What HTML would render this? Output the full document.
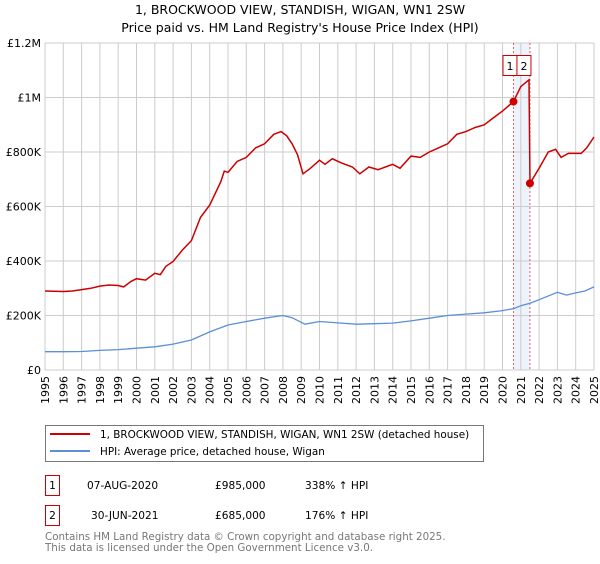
<!DOCTYPE html>
<html><head><meta charset="utf-8"><style>
body{margin:0;background:#fff;width:600px;height:560px;overflow:hidden;font-family:"DejaVu Sans","Liberation Sans",sans-serif}
svg text{font-family:"DejaVu Sans","Liberation Sans",sans-serif}
</style></head><body>
<svg id="chart" width="600" height="560" viewBox="0 0 600 560" xmlns="http://www.w3.org/2000/svg">
<text x="300" y="14" text-anchor="middle" font-size="12.5" fill="#000">1, BROCKWOOD VIEW, STANDISH, WIGAN, WN1 2SW</text>
<text x="300" y="32" text-anchor="middle" font-size="12.5" fill="#000">Price paid vs. HM Land Registry's House Price Index (HPI)</text>
<g id="grid"></g>
<g id="axes"></g>
<g id="series"></g>
<g>
<rect x="45.5" y="425.5" width="438" height="36" fill="#fff" stroke="#777"/>
<line x1="50" y1="434" x2="90" y2="434" stroke="#cc0000" stroke-width="2"/>
<text x="100" y="438" font-size="10.4">1, BROCKWOOD VIEW, STANDISH, WIGAN, WN1 2SW (detached house)</text>
<line x1="50" y1="451" x2="90" y2="451" stroke="#5b8fd6" stroke-width="2"/>
<text x="100" y="455" font-size="10.4">HPI: Average price, detached house, Wigan</text>
</g>
<g font-size="10.6">
<rect x="45.5" y="475.5" width="14" height="20" fill="#fff" stroke="#cc0000"/>
<text x="52.5" y="489" text-anchor="middle">1</text>
<text x="87" y="489">07-AUG-2020</text><text x="215" y="489">£985,000</text><text x="305" y="489">338% ↑ HPI</text>
<rect x="45.5" y="505.5" width="14" height="20" fill="#fff" stroke="#cc0000"/>
<text x="52.5" y="519" text-anchor="middle">2</text>
<text x="91" y="519">30-JUN-2021</text><text x="215" y="519">£685,000</text><text x="305" y="519">176% ↑ HPI</text>
</g>
<text x="45" y="540" font-size="10.3" fill="#777">Contains HM Land Registry data © Crown copyright and database right 2025.</text>
<text x="45" y="551" font-size="10.3" fill="#777">This data is licensed under the Open Government Licence v3.0.</text>
</svg>
<script>
const yTicks=[0,200000,400000,600000,800000,1000000,1200000];
const yTickLabels=["£0","£200K","£400K","£600K","£800K","£1M","£1.2M"];
const years=[1995,1996,1997,1998,1999,2000,2001,2002,2003,2004,2005,2006,2007,2008,2009,2010,2011,2012,2013,2014,2015,2016,2017,2018,2019,2020,2021,2022,2023,2024,2025];
const propT=[1995,1996,1996.5,1997,1997.5,1998,1998.5,1999,1999.3,1999.7,2000,2000.5,2001,2001.3,2001.6,2002,2002.5,2003,2003.5,2004,2004.6,2004.8,2005,2005.5,2006,2006.5,2007,2007.5,2007.9,2008.2,2008.5,2008.8,2009.1,2009.5,2010,2010.3,2010.7,2011.2,2011.8,2012.2,2012.7,2013.2,2013.6,2014,2014.4,2015,2015.5,2016,2016.5,2017,2017.5,2018,2018.5,2019,2019.5,2020,2020.6,2021,2021.45,2021.5,2022,2022.5,2022.9,2023.2,2023.6,2024,2024.3,2024.6,2025];
const propV=[290000,288000,290000,295000,300000,308000,312000,310000,305000,325000,335000,330000,355000,350000,380000,398000,440000,475000,560000,605000,690000,730000,725000,765000,780000,815000,830000,865000,875000,860000,830000,790000,720000,740000,770000,755000,775000,760000,745000,720000,745000,735000,745000,755000,740000,785000,780000,800000,815000,830000,865000,875000,890000,900000,925000,950000,985000,1040000,1065000,685000,740000,800000,810000,780000,795000,795000,795000,815000,855000];
const hpiT=[1995,1996,1997,1998,1999,2000,2001,2002,2003,2004,2005,2006,2007,2008,2008.5,2009.2,2010,2011,2012,2013,2014,2015,2016,2017,2018,2019,2020,2020.6,2021,2021.5,2022,2023,2023.5,2024,2024.5,2025];
const hpiV=[67000,67000,68000,72000,75000,80000,85000,95000,110000,140000,165000,178000,190000,200000,192000,168000,178000,173000,168000,170000,172000,180000,190000,200000,205000,210000,218000,225000,236000,245000,258000,285000,275000,283000,290000,305000];
const sales=[{t:2020.6,v:985000,label:"1"},{t:2021.5,v:685000,label:"2"}];
const X0=45,X1=594,Y0=370,Y1=43;
const xs=t=>X0+(t-1995)/(2025-1995)*(X1-X0);
const ys=v=>Y0-v/1200000*(Y0-Y1);
const NS="http://www.w3.org/2000/svg";
function mk(tag,attrs,parent){const e=document.createElementNS(NS,tag);for(const k in attrs)e.setAttribute(k,attrs[k]);parent.appendChild(e);return e;}
const grid=document.getElementById('grid'),axes=document.getElementById('axes'),ser=document.getElementById('series');
const band=mk('rect',{x:xs(sales[0].t),y:Y1,width:xs(sales[1].t)-xs(sales[0].t),height:Y0-Y1,fill:'#eef2fb'},grid);


years.forEach(y=>{const l=mk('line',{x1:xs(y),x2:xs(y),y1:Y1,y2:Y0,stroke:'#cccccc','stroke-width':1},grid);


const t=mk('text',{x:0,y:0,'font-size':11,'text-anchor':'end',transform:`translate(${xs(y)+4},${Y0+6}) rotate(-90)`},axes);


t.textContent=y;});
yTicks.forEach((v,i)=>{const l=mk('line',{x1:X0,x2:X1,y1:ys(v),y2:ys(v),stroke:'#cccccc','stroke-width':1},grid);


const t=mk('text',{x:X0-4,y:ys(v)+4,'font-size':11,'text-anchor':'end'},axes);


t.textContent=yTickLabels[i];});
sales.forEach(s=>{const l=mk('line',{x1:xs(s.t),x2:xs(s.t),y1:Y1,y2:Y0,stroke:'#e06060','stroke-width':1,'stroke-dasharray':'2,2'},grid);

});
function path(T,V){return T.map((t,i)=>(i?'L':'M')+xs(t).toFixed(1)+','+ys(V[i]).toFixed(1)).join('');}
const hp=mk('path',{d:path(hpiT,hpiV),fill:'none',stroke:'#5b8fd6','stroke-width':1.3},ser);


const pp=mk('path',{d:path(propT,propV),fill:'none',stroke:'#cc0000','stroke-width':1.5},ser);


sales.forEach((s,i)=>{const c=mk('circle',{cx:xs(s.t),cy:ys(s.v),r:4,fill:'#cc0000'},ser);


const bx=xs(s.t)+(i===0?-10.5:-13);
const r=mk('rect',{x:bx,y:55.5,width:14,height:20,fill:'#fff',stroke:'#cc0000'},ser);


const t=mk('text',{x:bx+7,y:70,'font-size':11,'text-anchor':'middle'},ser);


t.textContent=s.label;});
</script>
</body></html>
